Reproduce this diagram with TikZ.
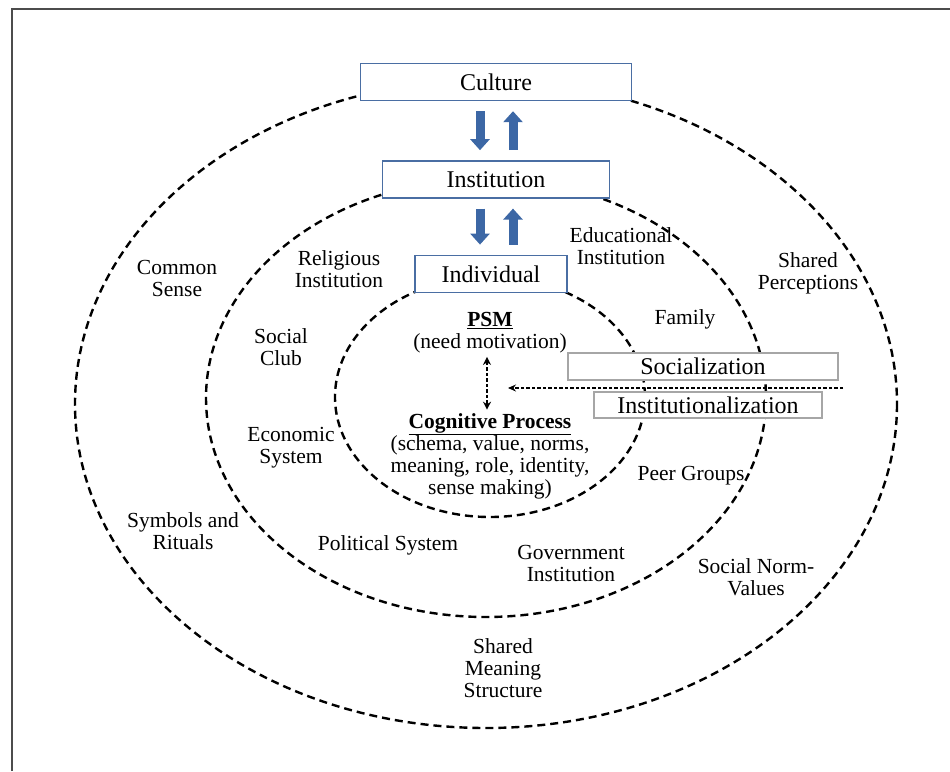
\documentclass[tikz,border=0pt]{standalone}
\usepackage{fontspec}
\setmainfont{Liberation Serif}
\usetikzlibrary{arrows.meta, positioning}

\definecolor{boxblue}{HTML}{4A6EA3}
\definecolor{arrowblue}{HTML}{3C67A5}

\begin{document}
\begin{tikzpicture}[
    x=1pt, y=-1pt,
    node distance=59pt,
    tierbox/.style={rectangle, draw=boxblue, fill=white, line width=1.4pt, minimum height=37pt, inner sep=0pt, font=\fontsize{24}{26}\selectfont},
    graybox/.style={rectangle, draw=gray!70, fill=white, line width=1.2pt, inner sep=0pt, font=\fontsize{24}{26}\selectfont},
    ring/.style={dash pattern=on 8pt off 5pt, line width=2.4pt},
    lbl/.style={align=center, font=\fontsize{21.5}{22}\selectfont},
    bigarrow/.style={-{Triangle[width=19pt,length=11pt]}, line width=9pt, draw=arrowblue, shorten <=10pt, shorten >=10pt},
    dasharrow/.style={dash pattern=on 3.5pt off 2pt, line width=1.1pt}
]
    \useasboundingbox (0,0) rectangle (950,771);
    \draw[gray!60!black, line width=1.5pt] (12,771) -- (12,9) -- (950,9);

    % three layers
    \draw[ring] (486,404) ellipse [x radius=411, y radius=324];
    \draw[ring] (486,398) ellipse [x radius=280, y radius=219];
    \draw[ring] (490,397) ellipse [x radius=155, y radius=120];

    \node[tierbox, minimum width=271pt] (culture) at (496,82) {Culture};
    \node[tierbox, minimum width=227pt, below=of culture] (inst) {Institution};
    \node[tierbox, minimum width=152pt, below=56pt of inst, xshift=-5pt] (indiv) {Individual};

    \draw[bigarrow] ([xshift=-16pt]culture.south) -- ([xshift=-16pt]culture.south |- inst.north);
    \draw[bigarrow] ([xshift=17pt]culture.south |- inst.north) -- ([xshift=17pt]culture.south);
    \draw[bigarrow] ([xshift=-16pt]inst.south) -- ([xshift=-16pt]inst.south |- indiv.north);
    \draw[bigarrow] ([xshift=17pt]inst.south |- indiv.north) -- ([xshift=17pt]inst.south);

    \node[graybox, minimum width=270pt, minimum height=27pt] (social) at (703,366.5) {Socialization};
    \node[graybox, minimum width=228pt, minimum height=26pt] (instz) at (708,405) {Institutionalization};

    \node[lbl] (psm) at (490,333) {\underline{\textbf{PSM}}\\(need motivation)};
    \node[lbl] (cog) at (490,456) {\underline{\textbf{Cognitive Process}}\\(schema, value, norms,\\meaning, role, identity,\\sense making)};
    \draw[dasharrow, line width=1.5pt, {Stealth[length=8pt,width=8pt]}-{Stealth[length=8pt,width=8pt]}]
        ([xshift=-3pt]psm.south) -- ([xshift=-3pt]psm.south |- cog.north);

    \coordinate (feed) at (843,388);
    \coordinate (feedend) at (508,388);
    \draw[dasharrow, -{Stealth[length=8pt,width=7pt]}] (feed) -- (feedend);

    % outer ring
    \node[lbl] (common) at (177,278) {Common\\Sense};
    \node[lbl] (symbols) at (183,531) {Symbols and\\Rituals};
    \node[lbl] (meaning) at (503,668) {Shared\\Meaning\\Structure};
    \node[lbl] (normvalues) at (756,577) {Social Norm-\\Values};
    \node[lbl] (perceptions) at (808,273) {Shared\\Perceptions};
    % middle ring
    \node[lbl] (religious) at (339,269) {Religious\\Institution};
    \node[lbl] (educational) at (621,246) {Educational\\Institution};
    \node[lbl] (family) at (685,319) {Family};
    \node[lbl] (club) at (281,347) {Social\\Club};
    \node[lbl] (economic) at (291,448) {Economic\\System};
    \node[lbl] (political) at (388,545) {Political System};
    \node[lbl] (government) at (571,563) {Government\\Institution};
    \node[lbl] (peers) at (691,476) {Peer Groups};
\end{tikzpicture}
\end{document}
